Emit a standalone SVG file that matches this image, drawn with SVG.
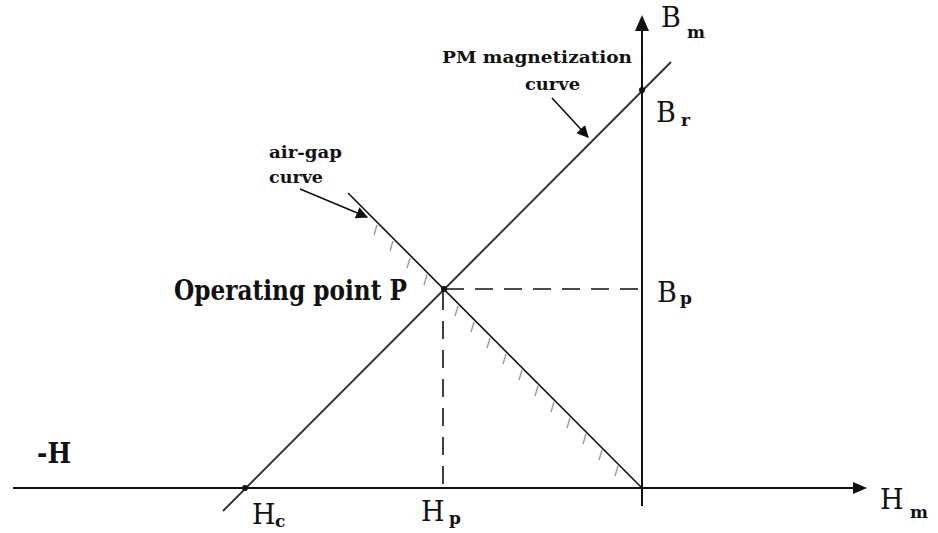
<svg xmlns="http://www.w3.org/2000/svg" width="938" height="533" viewBox="0 0 938 533">
<style>
.ax{stroke:#111;stroke-width:2;fill:none}
.curve{stroke:#333;stroke-width:2;fill:none}
.gap{stroke:#111;stroke-width:1.6;fill:none}
.dash{stroke:#111;stroke-width:1.6;fill:none;stroke-dasharray:18 11}
.hatch{stroke:#9a9a9a;stroke-width:1.4;fill:none}
.lead{stroke:#111;stroke-width:1.6;fill:none}
text{fill:#111}
.big{font-size:27px}
.sub{font-size:17px;font-weight:bold}
.lbl{font-size:17px;font-weight:bold}
.op{font-size:28px;font-weight:bold}
</style>
<defs>
<marker id="ah" viewBox="0 0 10 10" refX="9" refY="5" markerWidth="12" markerHeight="12" markerUnits="userSpaceOnUse" orient="auto">
<path d="M0,0 L10,5 L0,10 Z" fill="#111"/>
</marker>
</defs>
<g id="connectors">
<line class="ax" x1="13" y1="488" x2="856" y2="488"/>
<path d="M867,488 L853,482 L853,494 Z" fill="#111"/>
<line class="ax" x1="642" y1="506" x2="642" y2="28"/>
<path d="M642,15 L635,31 L649,31 Z" fill="#111"/>
<line class="curve" x1="223" y1="511" x2="671" y2="62"/>
<line class="gap" x1="348" y1="193" x2="642" y2="488"/>
<line class="dash" x1="446" y1="289" x2="642" y2="289"/>
<line class="dash" x1="443" y1="292" x2="443" y2="488"/>
<g id="hatching">
<path class="hatch" d="M377,225 l-3,10 M393,241 l-3,10 M410,258 l-3,10 M427,275 l-3,10 M458,306 l-3,10 M474,322 l-3,10 M490,338 l-3,10 M506,354 l-3,10 M522,370 l-3,10 M538,386 l-3,10 M554,402 l-3,10 M570,418 l-3,10 M586,434 l-3,10 M602,450 l-3,10 M618,466 l-3,10"/>
</g>
<line class="lead" x1="300" y1="189" x2="367" y2="217" marker-end="url(#ah)"/>
<line class="lead" x1="552" y1="98" x2="588" y2="137" marker-end="url(#ah)"/>
</g>
<g id="points">
<circle cx="642" cy="90" r="3" fill="#111"/>
<circle cx="444" cy="289" r="3" fill="#111"/>
<circle cx="245" cy="488" r="3" fill="#111"/>
</g>
<g font-family="DejaVu Serif, Liberation Serif, serif">
<g id="label-Bm"><text class="big" x="661" y="27">B</text><text class="sub" x="687" y="38">m</text></g>
<g id="label-Br"><text class="big" x="656" y="122">B</text><text class="sub" x="681" y="126" font-weight="normal" font-size="15">r</text></g>
<g id="label-Bp"><text class="big" x="657" y="302">B</text><text class="sub" x="680" y="304" font-weight="normal" font-size="15">p</text></g>
<g id="label-Hm"><text class="big" x="880" y="509">H</text><text class="sub" x="910" y="518">m</text></g>
<g id="label-Hc"><text class="big" x="252" y="524">H</text><text class="sub" x="275" y="527" font-weight="normal" font-size="15">c</text></g>
<g id="label-Hp"><text class="big" x="421" y="521">H</text><text class="sub" x="449" y="524" font-weight="normal" font-size="15">p</text></g>
<g id="label-negH"><text class="big" font-weight="bold" x="37" y="463" textLength="34" lengthAdjust="spacingAndGlyphs">-H</text></g>
<g id="label-op"><text class="op" x="174" y="300" textLength="233" lengthAdjust="spacingAndGlyphs">Operating point P</text></g>
<g id="label-pm"><text class="lbl" x="442" y="63" textLength="190" lengthAdjust="spacingAndGlyphs">PM magnetization</text><text class="lbl" x="525" y="90" textLength="55" lengthAdjust="spacingAndGlyphs">curve</text></g>
<g id="label-airgap"><text class="lbl" x="269" y="158" textLength="73" lengthAdjust="spacingAndGlyphs">air-gap</text><text class="lbl" x="269" y="183" textLength="54" lengthAdjust="spacingAndGlyphs">curve</text></g>
</g>
</svg>
